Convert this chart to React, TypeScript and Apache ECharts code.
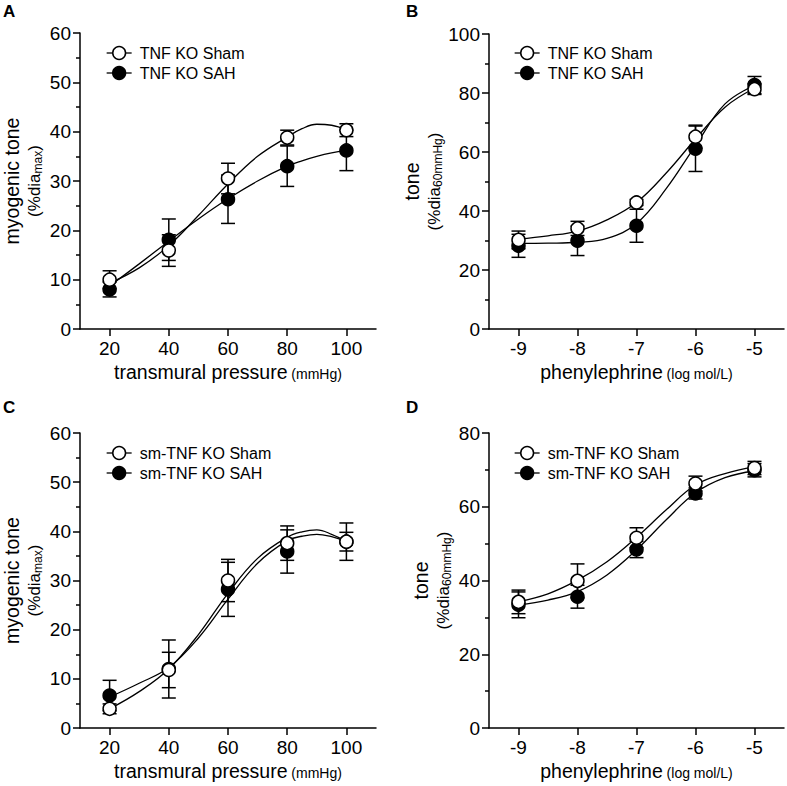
import React, { useEffect, useRef } from "react";
import * as echarts from "echarts";

// ---------- data ----------
const pressureX = [20, 40, 60, 80, 100];
const pressureTicks = [20, 40, 60, 80, 100];
const pheX = [-9, -8, -7, -6, -5];
const pheTicks = [-9, -8, -7, -6, -5];

// Panel A – TNF KO, myogenic tone
const aShamMean = [10.0, 15.9, 30.5, 38.8, 40.3];
const aShamSem = [1.8, 3.2, 3.1, 1.5, 1.3];
const aSahMean = [8.0, 18.1, 26.3, 33.0, 36.2];
const aSahSem = [1.5, 4.2, 4.9, 4.1, 4.1];
const aCurveX = [20, 30, 40, 50, 60, 70, 80, 85, 90, 95, 100];
const aShamCurve = [9.3, 12.4, 16.9, 23.0, 29.4, 35.0, 38.9, 40.6, 41.5, 41.3, 40.4];
const aSahCurve = [8.7, 13.2, 17.8, 22.3, 26.4, 30.0, 33.0, 34.1, 35.0, 35.7, 36.2];

// Panel B – TNF KO, phenylephrine
const bShamMean = [30.2, 34.1, 42.9, 65.2, 81.3];
const bShamSem = [3.0, 2.4, 1.0, 3.9, 1.8];
const bSahMean = [28.2, 29.9, 35.0, 61.1, 82.7];
const bSahSem = [3.9, 5.0, 5.6, 7.7, 2.9];
const bCurveX = [-9, -8.5, -8, -7.5, -7, -6.5, -6, -5.5, -5];
const bShamCurve = [30.5, 31.6, 33.2, 37.0, 42.9, 52.8, 64.4, 75.2, 81.6];
const bSahCurve = [29.0, 29.1, 29.4, 30.7, 35.8, 47.5, 62.2, 76.3, 82.6];

// Panel C – sm-TNF KO, myogenic tone
const cShamMean = [3.9, 11.8, 30.0, 37.6, 37.9];
const cShamSem = [1.0, 3.6, 4.3, 3.5, 3.8];
const cSahMean = [6.6, 12.0, 28.2, 35.9, 37.9];
const cSahSem = [3.1, 5.9, 5.5, 4.4, 1.9];
const cCurveX = [20, 30, 40, 50, 60, 70, 80, 85, 90, 95, 100];
const cShamCurve = [3.9, 7.4, 12.0, 19.0, 27.4, 34.5, 38.8, 39.9, 40.3, 39.4, 37.9];
const cSahCurve = [6.3, 9.1, 12.3, 18.3, 26.2, 33.5, 38.1, 39.0, 39.4, 38.9, 37.9];

// Panel D – sm-TNF KO, phenylephrine
const dShamMean = [34.2, 39.9, 51.6, 66.3, 70.5];
const dShamSem = [3.2, 4.6, 2.7, 2.0, 1.8];
const dSahMean = [33.4, 35.6, 48.4, 63.6, 69.9];
const dSahSem = [3.5, 3.1, 2.2, 1.5, 1.8];
const dCurveX = [-9, -8.5, -8, -7.5, -7, -6.5, -6, -5.5, -5];
const dShamCurve = [34.3, 36.4, 40.1, 45.1, 51.7, 59.1, 65.9, 69.0, 70.8];
const dSahCurve = [33.4, 34.7, 37.0, 41.5, 48.3, 56.4, 63.8, 67.9, 69.7];

const tnfNames = ["TNF KO Sham", "TNF KO SAH"];
const smNames = ["sm-TNF KO Sham", "sm-TNF KO SAH"];

// ---------- styling / layout ----------
const FONT = "'Liberation Sans', Arial, Helvetica, sans-serif";
const BLACK = "#000";

type Panel = {
  letter: string;
  grid: { left: number; top: number; width: number; height: number };
  xMin: number;
  xMax: number;
  xTicks: number[];
  yMax: number;
  yInterval: number;
  xName: string;
  yName: string;
  names: string[];
  px: number[];
  shamMean: number[];
  shamSem: number[];
  sahMean: number[];
  sahSem: number[];
  curveX: number[];
  shamCurve: number[];
  sahCurve: number[];
  legendPos: { left: number; top: number };
  letterPos: { x: number; y: number };
};

const pressureName = "{t|transmural pressure}{u| (mmHg)}";
const pheName = "{t|phenylephrine}{u| (log mol/L)}";
const myoName = "{t|myogenic tone}\n{s|(%dia}{b|max}{s|)}";
const toneName = "{t|tone}\n{s|(%dia}{b|60mmHg}{s|)}";

const panels: Panel[] = [
  {
    letter: "A",
    grid: { left: 80, top: 33, width: 296, height: 296 },
    xMin: 10, xMax: 110, xTicks: pressureTicks, yMax: 60, yInterval: 10,
    xName: pressureName, yName: myoName, names: tnfNames, px: pressureX,
    shamMean: aShamMean, shamSem: aShamSem, sahMean: aSahMean, sahSem: aSahSem,
    curveX: aCurveX, shamCurve: aShamCurve, sahCurve: aSahCurve,
    legendPos: { left: 101, top: 40 }, letterPos: { x: 3, y: 3 },
  },
  {
    letter: "B",
    grid: { left: 489, top: 34, width: 295, height: 295 },
    xMin: -9.5, xMax: -4.5, xTicks: pheTicks, yMax: 100, yInterval: 20,
    xName: pheName, yName: toneName, names: tnfNames, px: pheX,
    shamMean: bShamMean, shamSem: bShamSem, sahMean: bSahMean, sahSem: bSahSem,
    curveX: bCurveX, shamCurve: bShamCurve, sahCurve: bSahCurve,
    legendPos: { left: 509, top: 40 }, letterPos: { x: 406, y: 3 },
  },
  {
    letter: "C",
    grid: { left: 80, top: 433, width: 296, height: 295 },
    xMin: 10, xMax: 110, xTicks: pressureTicks, yMax: 60, yInterval: 10,
    xName: pressureName, yName: myoName, names: smNames, px: pressureX,
    shamMean: cShamMean, shamSem: cShamSem, sahMean: cSahMean, sahSem: cSahSem,
    curveX: cCurveX, shamCurve: cShamCurve, sahCurve: cSahCurve,
    legendPos: { left: 101, top: 440 }, letterPos: { x: 3, y: 399 },
  },
  {
    letter: "D",
    grid: { left: 489, top: 433, width: 295, height: 295 },
    xMin: -9.5, xMax: -4.5, xTicks: pheTicks, yMax: 80, yInterval: 20,
    xName: pheName, yName: toneName, names: smNames, px: pheX,
    shamMean: dShamMean, shamSem: dShamSem, sahMean: dSahMean, sahSem: dSahSem,
    curveX: dCurveX, shamCurve: dShamCurve, sahCurve: dSahCurve,
    legendPos: { left: 509, top: 440 }, letterPos: { x: 406, y: 399 },
  },
];

const openStyle = { color: "#fff", borderColor: BLACK, borderWidth: 1.5, opacity: 1 };
const filledStyle = { color: BLACK, borderColor: BLACK, borderWidth: 1.5, opacity: 1 };

function errorSeries(name: string, gi: number, xs: number[], mean: number[], sem: number[], z: number) {
  return {
    type: "custom",
    name,
    xAxisIndex: gi,
    yAxisIndex: gi,
    z,
    silent: true,
    data: xs.map((x, k) => [x, mean[k] - sem[k], mean[k] + sem[k]]),
    encode: { x: 0, y: [1, 2] },
    renderItem: (_params: any, api: any) => {
      const lo = api.coord([api.value(0), api.value(1)]);
      const hi = api.coord([api.value(0), api.value(2)]);
      const w = 7;
      const st = { stroke: BLACK, lineWidth: 1.5 };
      return {
        type: "group",
        children: [
          { type: "line", shape: { x1: lo[0], y1: lo[1], x2: hi[0], y2: hi[1] }, style: st },
          { type: "line", shape: { x1: lo[0] - w, y1: lo[1], x2: lo[0] + w, y2: lo[1] }, style: st },
          { type: "line", shape: { x1: hi[0] - w, y1: hi[1], x2: hi[0] + w, y2: hi[1] }, style: st },
        ],
      };
    },
  };
}

function buildOption() {
  const grid: any[] = [];
  const xAxis: any[] = [];
  const yAxis: any[] = [];
  const series: any[] = [];
  const legend: any[] = [];
  const graphic: any[] = [];

  panels.forEach((p, gi) => {
    grid.push({ ...p.grid, outerBoundsMode: "none", containLabel: false });
    xAxis.push({
      gridIndex: gi,
      type: "value",
      min: p.xMin,
      max: p.xMax,
      axisLine: { show: true, onZero: false, lineStyle: { color: BLACK, width: 1.5 } },
      axisTick: { show: true, length: 7, customValues: p.xTicks, lineStyle: { color: BLACK, width: 1.5 } },
      axisLabel: {
        customValues: p.xTicks,
        color: BLACK,
        fontSize: 19,
        fontFamily: FONT,
        margin: 10,
        formatter: (v: number) => String(v),
      },
      splitLine: { show: false },
      name: p.xName,
      nameLocation: "middle",
      nameGap: 31,
      nameTextStyle: {
        color: BLACK,
        fontFamily: FONT,
        rich: {
          t: { fontSize: 19.5, lineHeight: 24, color: BLACK, fontFamily: FONT },
          u: { fontSize: 14, lineHeight: 24, padding: [3, 0, 0, 0], color: BLACK, fontFamily: FONT },
        },
      },
    });
    yAxis.push({
      gridIndex: gi,
      type: "value",
      min: 0,
      max: p.yMax,
      interval: p.yInterval,
      axisLine: { show: true, lineStyle: { color: BLACK, width: 1.5 } },
      axisTick: { show: true, length: 7, lineStyle: { color: BLACK, width: 1.5 } },
      minorTick: { show: true, splitNumber: 2, length: 4, lineStyle: { color: BLACK, width: 1.5 } },
      axisLabel: { color: BLACK, fontSize: 19, fontFamily: FONT, margin: 9 },
      splitLine: { show: false },
      minorSplitLine: { show: false },
      name: p.yName,
      nameLocation: "middle",
      nameRotate: 90,
      nameGap: 36,
      nameTextStyle: {
        color: BLACK,
        fontFamily: FONT,
        align: "center",
        rich: {
          t: { fontSize: 19.5, lineHeight: 25, color: BLACK, fontFamily: FONT, align: "center" },
          s: { fontSize: 17, lineHeight: 20, color: BLACK, fontFamily: FONT },
          b: { fontSize: 12, lineHeight: 10, verticalAlign: "bottom", color: BLACK, fontFamily: FONT },
        },
      },
    });

    const [shamName, sahName] = p.names;
    series.push({
      type: "line",
      name: shamName,
      xAxisIndex: gi,
      yAxisIndex: gi,
      data: p.curveX.map((x, k) => [x, p.shamCurve[k]]),
      smooth: 0.4,
      symbol: "circle",
      showSymbol: false,
      lineStyle: { color: BLACK, width: 1.3 },
      itemStyle: openStyle,
      silent: true,
      z: 2,
    });
    series.push({
      type: "line",
      name: sahName,
      xAxisIndex: gi,
      yAxisIndex: gi,
      data: p.curveX.map((x, k) => [x, p.sahCurve[k]]),
      smooth: 0.4,
      symbol: "circle",
      showSymbol: false,
      lineStyle: { color: BLACK, width: 1.3 },
      itemStyle: filledStyle,
      silent: true,
      z: 2,
    });
    series.push(errorSeries(shamName + " SEM", gi, p.px, p.shamMean, p.shamSem, 3));
    series.push(errorSeries(sahName + " SEM", gi, p.px, p.sahMean, p.sahSem, 3));
    series.push({
      type: "scatter",
      name: sahName,
      xAxisIndex: gi,
      yAxisIndex: gi,
      data: p.px.map((x, k) => [x, p.sahMean[k]]),
      symbol: "circle",
      symbolSize: 13,
      itemStyle: filledStyle,
      silent: true,
      z: 4,
    });
    series.push({
      type: "scatter",
      name: shamName,
      xAxisIndex: gi,
      yAxisIndex: gi,
      data: p.px.map((x, k) => [x, p.shamMean[k]]),
      symbol: "circle",
      symbolSize: 13,
      itemStyle: openStyle,
      silent: true,
      z: 5,
    });

    legend.push({
      left: p.legendPos.left,
      top: p.legendPos.top,
      orient: "vertical",
      itemWidth: 25,
      itemHeight: 16,
      itemGap: 4,
      selectedMode: false,
      textStyle: { color: BLACK, fontSize: 16, fontFamily: FONT, padding: [0, 0, 0, 3] },
      data: [
        { name: shamName, itemStyle: openStyle, lineStyle: { color: BLACK, width: 1.3 } },
        { name: sahName, itemStyle: filledStyle, lineStyle: { color: BLACK, width: 1.3 } },
      ],
    });

    graphic.push({
      type: "text",
      x: p.letterPos.x,
      y: p.letterPos.y,
      style: { text: p.letter, fontSize: 17, fontWeight: "bold", fill: BLACK, fontFamily: FONT },
    });
  });

  return {
    animation: false,
    backgroundColor: "#fff",
    grid,
    xAxis,
    yAxis,
    series,
    legend,
    graphic,
  };
}

export default function App() {
  const ref = useRef<HTMLDivElement>(null);
  useEffect(() => {
    document.body.style.margin = "0";
    if (!ref.current) return;
    const chart = echarts.init(ref.current, undefined, { renderer: "svg" });
    chart.setOption(buildOption() as any);
    return () => chart.dispose();
  }, []);
  return <div ref={ref} style={{ width: 787, height: 786 }} />;
}
